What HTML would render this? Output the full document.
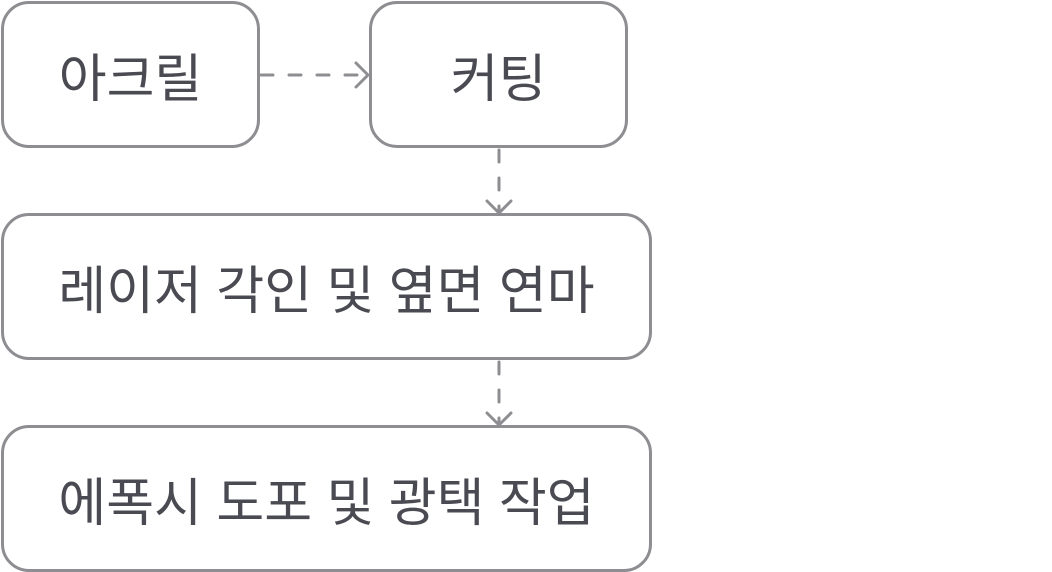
<!DOCTYPE html>
<html><head><meta charset="utf-8"><style>
body{margin:0;width:1052px;height:572px;background:#fff;position:relative;overflow:hidden}
.b{position:absolute;box-sizing:border-box;border:3px solid #8e8d92;border-radius:28px;display:flex;align-items:center;justify-content:center;font-family:"Liberation Sans","Noto Sans CJK KR",sans-serif;font-size:52px;font-weight:400;color:#4a4a52;background:#fff}
svg{position:absolute;left:0;top:0}
</style></head><body>
<div class="b" style="left:1px;top:1px;width:259px;height:147px">아크릴</div>
<div class="b" style="left:369px;top:1px;width:259px;height:147px">커팅</div>
<div class="b" style="left:1px;top:213px;width:651px;height:147px">레이저 각인 및 옆면 연마</div>
<div class="b" style="left:1px;top:425px;width:651px;height:147px">에폭시 도포 및 광택 작업</div>
<svg width="1052" height="572" fill="none" stroke="#8e8d92" stroke-width="3" stroke-linecap="round" stroke-linejoin="round">
<path d="M261 75H366" stroke-dasharray="12 16"/>
<path d="M356 63L368 75L356 87"/>
<path d="M499 150V210" stroke-dasharray="12 16"/>
<path d="M487 201L499 213L511 201"/>
<path d="M499 362V422" stroke-dasharray="12 16"/>
<path d="M487 413L499 425L511 413"/>
</svg>
</body></html>
